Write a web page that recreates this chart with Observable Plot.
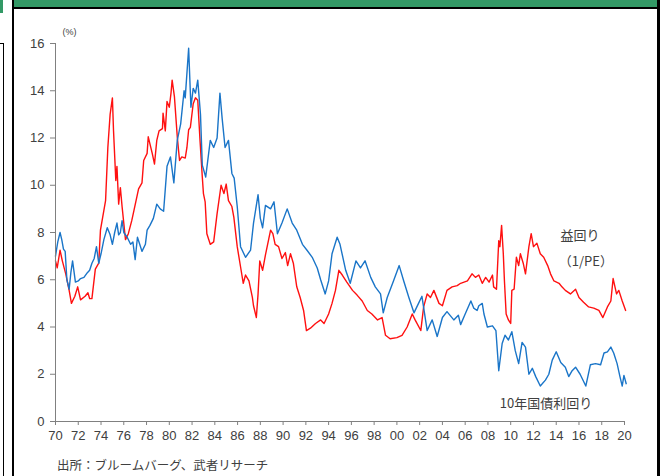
<!DOCTYPE html>
<html>
<head>
<meta charset="utf-8">
<script src="https://cdn.jsdelivr.net/npm/d3@7"></script>
<script src="https://cdn.jsdelivr.net/npm/@observablehq/plot@0.6"></script>
<style>
  html, body { margin: 0; padding: 0; background: #fff; }
  body { width: 660px; height: 476px; position: relative; overflow: hidden; }
  #chart { position: absolute; left: 0; top: 0; }
  .deco { position: absolute; }
  #caption { position: absolute; left: 57px; top: 455px; font-family: "Noto Sans CJK JP", sans-serif; font-size: 12.5px; color: #404040; white-space: nowrap; }
</style>
</head>
<body>
<div class="deco" style="left:14px;top:0;width:643px;height:7px;background:#339966"></div>
<div class="deco" style="left:14px;top:7px;width:643px;height:2px;background:#000"></div>
<div class="deco" style="left:12px;top:0;width:2px;height:476px;background:#000"></div>
<div class="deco" style="left:657px;top:0;width:3px;height:476px;background:#000"></div>
<div class="deco" style="left:0;top:0;width:3px;height:13px;background:#339966"></div>
<div class="deco" style="left:0;top:43px;width:4px;height:1px;background:#000"></div>
<div class="deco" style="left:3px;top:43px;width:1px;height:433px;background:#000"></div>
<div id="chart"></div>
<div id="caption">出所：ブルームバーグ、武者リサーチ</div>
<script>
// 10-year government bond yield (blue)
const bondYears = [1970.0,1970.2,1970.4,1970.55,1970.7,1970.85,1971.0,1971.2,1971.35,1971.5,1971.75,1972.0,1972.2,1972.5,1972.8,1973.0,1973.2,1973.4,1973.6,1973.8,1974.0,1974.25,1974.55,1974.8,1975.0,1975.2,1975.4,1975.55,1975.7,1975.85,1976.0,1976.3,1976.6,1976.8,1977.0,1977.2,1977.4,1977.6,1977.9,1978.05,1978.3,1978.6,1978.9,1979.2,1979.5,1979.8,1980.1,1980.4,1980.7,1981.0,1981.3,1981.4,1981.7,1981.9,1982.1,1982.3,1982.5,1982.74,1982.9,1983.2,1983.6,1983.9,1984.2,1984.45,1984.65,1984.9,1985.2,1985.5,1985.7,1985.97,1986.26,1986.7,1987.14,1987.4,1987.8,1988.0,1988.2,1988.45,1988.9,1989.2,1989.5,1989.9,1990.36,1990.8,1991.2,1991.7,1992.1,1992.56,1993.0,1993.3,1993.7,1994.0,1994.3,1994.75,1995.0,1995.5,1995.9,1996.4,1996.8,1997.2,1997.7,1998.1,1998.56,1998.8,1999.15,1999.7,2000.2,2000.6,2001.05,2001.5,2001.9,2002.2,2002.66,2003.1,2003.54,2004.0,2004.4,2005.0,2005.4,2005.6,2006.0,2006.5,2006.75,2007.05,2007.2,2007.5,2007.65,2007.95,2008.4,2008.7,2008.95,2009.25,2009.5,2009.8,2010.1,2010.4,2010.7,2011.0,2011.3,2011.6,2011.9,2012.2,2012.6,2013.05,2013.35,2013.65,2014.0,2014.4,2014.8,2015.1,2015.4,2015.7,2016.1,2016.6,2017.0,2017.45,2017.9,2018.2,2018.5,2018.8,2019.05,2019.35,2019.6,2019.8,2019.95,2020.15];
const bondValues = [7.0,7.6,8.0,7.7,7.3,7.2,6.0,5.6,6.3,6.8,5.9,5.95,6.05,6.1,6.3,6.4,6.7,6.9,7.4,6.7,7.1,7.7,8.2,7.9,7.5,8.0,8.4,7.9,8.0,8.5,8.0,7.8,7.5,7.6,6.85,7.8,7.5,7.2,7.5,8.1,8.3,8.6,9.2,9.0,8.9,10.8,11.2,10.1,11.9,12.6,14.0,13.7,15.8,13.3,14.1,13.9,14.45,13.0,10.85,10.35,11.9,11.6,12.0,13.9,12.8,11.6,11.9,10.5,10.3,9.1,7.4,6.95,7.25,8.4,9.6,8.6,8.2,9.15,9.0,9.3,7.95,8.4,9.0,8.4,8.1,7.5,7.25,6.95,6.5,6.0,5.4,5.95,7.1,7.8,7.5,6.4,5.85,6.8,6.5,6.8,6.1,5.7,5.4,4.6,5.25,5.95,6.6,5.95,5.25,4.6,5.0,5.3,3.85,4.3,3.6,4.4,4.65,4.3,4.5,4.1,4.55,5.1,4.8,4.7,4.9,5.0,4.55,4.0,4.05,3.85,2.15,3.3,3.65,3.45,3.8,3.0,2.45,3.35,3.15,2.0,2.25,1.9,1.5,1.75,2.0,2.6,2.95,2.5,2.3,1.9,2.15,2.3,2.0,1.5,2.4,2.45,2.4,2.9,2.95,3.15,2.9,2.45,1.9,1.5,1.95,1.6];

// Earnings yield 1/PE (red)
const eyYears = [1970.0,1970.15,1970.4,1970.6,1970.9,1971.2,1971.4,1971.7,1971.95,1972.2,1972.6,1972.85,1973.0,1973.2,1973.5,1973.8,1973.95,1974.4,1974.6,1974.8,1975.0,1975.1,1975.3,1975.4,1975.55,1975.7,1975.85,1976.15,1976.4,1976.7,1976.9,1977.3,1977.6,1977.75,1978.05,1978.15,1978.5,1978.7,1978.9,1979.1,1979.4,1979.45,1979.65,1979.8,1980.0,1980.15,1980.25,1980.45,1980.7,1980.9,1981.1,1981.4,1981.55,1981.7,1981.85,1982.1,1982.3,1982.5,1982.7,1982.9,1983.0,1983.15,1983.3,1983.6,1983.9,1984.2,1984.55,1984.8,1985.0,1985.2,1985.5,1985.67,1985.97,1986.26,1986.5,1986.7,1987.0,1987.3,1987.4,1987.65,1987.8,1987.95,1988.2,1988.45,1988.75,1988.9,1989.1,1989.3,1989.6,1989.9,1990.2,1990.4,1990.65,1990.9,1991.2,1991.5,1991.8,1992.05,1992.4,1992.85,1993.3,1993.6,1994.0,1994.3,1994.6,1994.9,1995.2,1995.6,1996.1,1996.5,1996.95,1997.4,1997.8,1998.3,1998.7,1999.0,1999.4,2000.0,2000.45,2000.9,2001.35,2001.6,2002.1,2002.35,2002.66,2002.95,2003.25,2003.7,2004.0,2004.4,2004.85,2005.3,2005.6,2006.2,2006.6,2006.9,2007.2,2007.5,2007.8,2008.1,2008.4,2008.5,2008.75,2008.95,2009.05,2009.2,2009.35,2009.45,2009.6,2009.8,2010.0,2010.1,2010.3,2010.5,2010.7,2010.85,2011.1,2011.3,2011.6,2011.8,2012.0,2012.3,2012.6,2012.9,2013.25,2013.5,2013.8,2014.25,2014.5,2014.8,2015.25,2015.7,2016.0,2016.4,2016.85,2017.3,2017.75,2018.1,2018.5,2018.8,2019.0,2019.3,2019.5,2019.8,2020.1];
const eyValues = [6.8,6.5,7.25,6.8,6.25,5.55,5.0,5.3,5.7,5.15,5.3,5.45,5.2,5.2,6.45,6.7,8.1,9.35,11.6,13.0,13.7,12.3,10.2,10.8,9.2,9.9,9.1,7.7,7.95,8.5,8.95,9.85,10.1,11.05,11.35,12.05,11.35,10.9,11.9,12.3,12.4,13.05,12.3,13.55,13.3,13.9,14.45,13.75,12.05,11.05,11.2,11.15,11.6,12.35,12.45,13.45,13.7,13.6,11.9,10.35,9.65,9.3,7.95,7.5,7.6,8.8,10.0,9.65,10.05,9.35,9.1,8.65,7.4,6.55,5.85,6.2,5.95,5.25,4.9,4.4,5.4,6.8,6.4,7.05,7.75,8.1,7.95,7.5,7.4,6.9,7.15,6.6,7.1,6.7,5.7,5.25,4.7,3.85,3.95,4.15,4.3,4.15,4.55,5.0,5.55,6.4,6.2,5.9,5.55,5.35,5.1,4.7,4.55,4.3,4.4,3.65,3.5,3.55,3.65,4.0,4.55,4.3,3.85,4.85,5.4,5.25,5.55,5.0,4.9,5.55,5.7,5.75,5.85,5.95,6.25,6.1,6.2,5.85,6.1,5.9,6.2,5.7,5.6,7.65,7.4,8.3,7.1,5.95,4.55,4.3,4.15,5.55,5.6,6.95,6.6,7.1,6.7,6.25,7.4,7.95,7.4,7.55,7.1,6.95,6.6,6.25,5.95,5.85,5.7,5.55,5.4,5.6,5.25,5.05,4.85,4.8,4.7,4.4,4.85,5.1,6.05,5.4,5.55,5.1,4.7];

// Axis ticks
const xTicks = d3.range(1970, 2021, 2);
const yTicks = d3.range(0, 17, 2);

// Series labels
const labelTexts = ["益回り", "（1/PE）", "10年国債利回り"];
const labelYears = [2016.1, 2016.6, 2013.1];
const labelValues = [7.85, 6.75, 0.76];

const bond = bondYears.map((x, i) => ({x, y: bondValues[i]}));
const ey = eyYears.map((x, i) => ({x, y: eyValues[i]}));
const labels = labelTexts.map((t, i) => ({t, x: labelYears[i], y: labelValues[i]}));

const chart = Plot.plot({
  width: 660,
  height: 476,
  marginLeft: 55,
  marginRight: 36,
  marginTop: 43,
  marginBottom: 55,
  style: {fontFamily: "'Liberation Sans', Arial, sans-serif", fontSize: "13px", color: "#404040", background: "transparent"},
  x: {domain: [1970, 2020]},
  y: {domain: [0, 16]},
  marks: [
    Plot.lineY(ey, {x: "x", y: "y", stroke: "#ff1010", strokeWidth: 1.4}),
    Plot.lineY(bond, {x: "x", y: "y", stroke: "#1a75c8", strokeWidth: 1.4}),
    Plot.ruleX([1970], {stroke: "#808080"}),
    Plot.ruleY([0], {stroke: "#808080"}),
    Plot.axisX({ticks: xTicks, tickFormat: d => String(d % 100).padStart(2, "0"), tickSize: 4, tickPadding: 5, stroke: "#808080", fill: "#404040", label: null}),
    Plot.axisY({ticks: yTicks, tickSize: 5, tickPadding: 6, stroke: "#808080", fill: "#404040", label: null}),
    Plot.text(["(%)"], {frameAnchor: "top-left", dy: -15, dx: 7, fontSize: 9, fill: "#404040"}),
    Plot.text(labels, {x: "x", y: "y", text: "t", fontSize: 13, fill: "#404040", fontFamily: "'Noto Sans CJK JP', sans-serif"})
  ]
});
document.getElementById("chart").appendChild(chart);
</script>
</body>
</html>
